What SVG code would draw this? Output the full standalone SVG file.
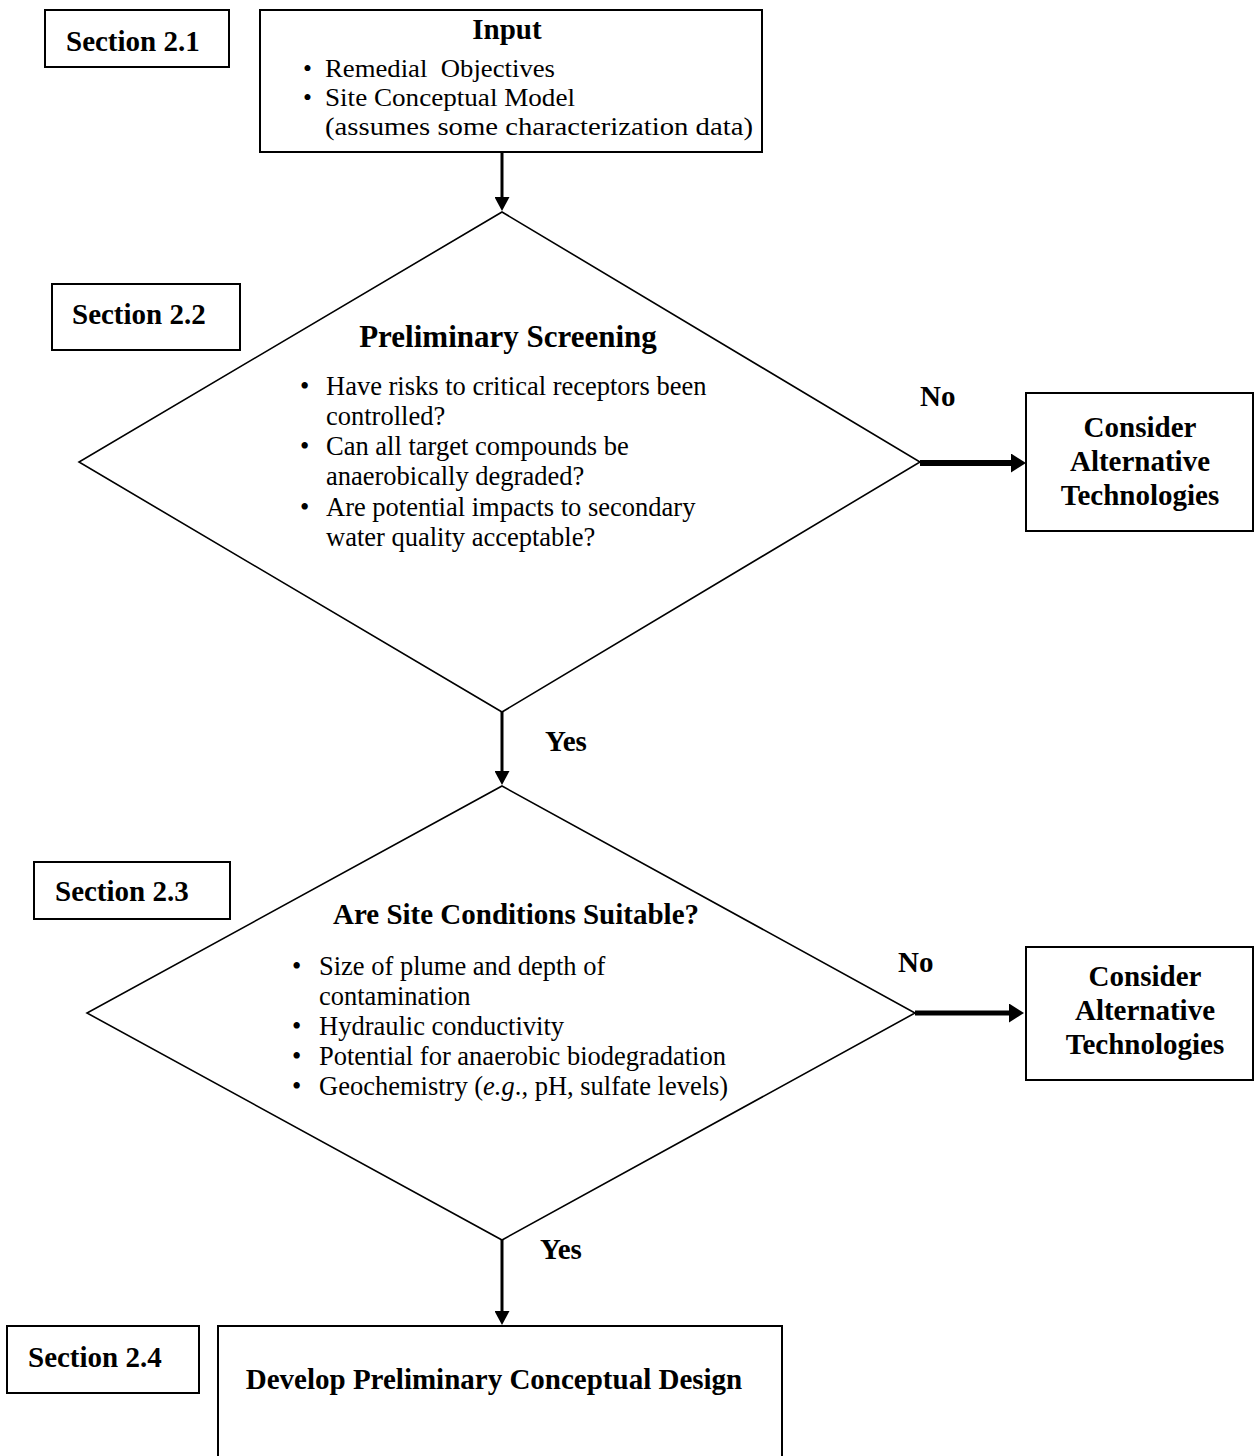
<svg xmlns="http://www.w3.org/2000/svg" width="1254" height="1456" viewBox="0 0 1254 1456">
<defs>
<style>
.box{fill:#fff;stroke:#000;stroke-width:2}
.dia{fill:#fff;stroke:#000;stroke-width:1.6}
.con{stroke:#000;fill:none}
.b{font-family:"Liberation Serif","Times New Roman",serif;font-weight:bold;fill:#000}
.r{font-family:"Liberation Serif","Times New Roman",serif;fill:#000;font-size:26.5px}
.in{font-size:25.5px}
.sec{font-size:29px}
.hd{font-size:29px;text-anchor:middle}
</style>
<marker id="av" markerUnits="userSpaceOnUse" markerWidth="14" markerHeight="15" refX="0" refY="7.5" orient="auto" viewBox="0 0 14 15">
<path d="M0,0 L14,7.5 L0,15 z" fill="#000"/>
</marker>
<marker id="ah" markerUnits="userSpaceOnUse" markerWidth="15" markerHeight="19" refX="0" refY="9.5" orient="auto" viewBox="0 0 15 19">
<path d="M0,0 L15,9.5 L0,19 z" fill="#000"/>
</marker>
</defs>
<rect width="1254" height="1456" fill="#fff"/>

<g id="connectors">
<line class="con" x1="502" y1="152" x2="502" y2="197" stroke-width="3" marker-end="url(#av)"/>
<line class="con" x1="502" y1="712" x2="502" y2="771" stroke-width="3" marker-end="url(#av)"/>
<line class="con" x1="502" y1="1240" x2="502" y2="1311" stroke-width="3" marker-end="url(#av)"/>
<line class="con" x1="920" y1="463" x2="1011" y2="463" stroke-width="6" marker-end="url(#ah)"/>
<line class="con" x1="915" y1="1013" x2="1009" y2="1013" stroke-width="5" marker-end="url(#ah)"/>
<text class="b" x="920" y="406" font-size="29">No</text>
<text class="b" x="898" y="972" font-size="29">No</text>
<text class="b" x="545" y="751" font-size="29">Yes</text>
<text class="b" x="540" y="1259" font-size="29">Yes</text>
</g>

<g id="sec21">
<rect class="box" x="45" y="10" width="184" height="57"/>
<text class="b sec" x="66" y="51">Section 2.1</text>
</g>

<g id="input">
<rect class="box" x="260" y="10" width="502" height="142" stroke-width="1.6"/>
<text class="b hd" x="507" y="39" font-size="31">Input</text>
<text class="r in" x="303" y="77">•</text>
<text class="r in" x="325" y="77" style="white-space:pre" textLength="230" lengthAdjust="spacingAndGlyphs">Remedial  Objectives</text>
<text class="r in" x="303" y="106">•</text>
<text class="r in" x="325" y="106" textLength="250" lengthAdjust="spacingAndGlyphs">Site Conceptual Model</text>
<text class="r in" x="325" y="135" textLength="428" lengthAdjust="spacingAndGlyphs">(assumes some characterization data)</text>
</g>

<g id="sec22">
<rect class="box" x="52" y="284" width="188" height="66"/>
<text class="b sec" x="72" y="324">Section 2.2</text>
</g>

<g id="screening">
<polygon class="dia" points="502,212 920,462 502,712 79,462"/>
<text class="b" x="508" y="347" font-size="31" text-anchor="middle">Preliminary Screening</text>
<text class="r" x="300" y="395">•</text>
<text class="r" x="326" y="395">Have risks to critical receptors been</text>
<text class="r" x="326" y="425">controlled?</text>
<text class="r" x="300" y="455">•</text>
<text class="r" x="326" y="455">Can all target compounds be</text>
<text class="r" x="326" y="485">anaerobically degraded?</text>
<text class="r" x="300" y="516">•</text>
<text class="r" x="326" y="516">Are potential impacts to secondary</text>
<text class="r" x="326" y="546">water quality acceptable?</text>
</g>

<g id="alt1">
<rect class="box" x="1026" y="393" width="227" height="138"/>
<text class="b hd" x="1140" y="437">Consider</text>
<text class="b hd" x="1140" y="471">Alternative</text>
<text class="b hd" x="1140" y="505">Technologies</text>
</g>

<g id="sec23">
<rect class="box" x="34" y="862" width="196" height="57"/>
<text class="b sec" x="55" y="901">Section 2.3</text>
</g>

<g id="suitable">
<polygon class="dia" points="502,786 915,1013 502,1240 87,1013"/>
<text class="b" x="516" y="924" font-size="29" text-anchor="middle">Are Site Conditions Suitable?</text>
<text class="r" x="292" y="975">•</text>
<text class="r" x="319" y="975">Size of plume and depth of</text>
<text class="r" x="319" y="1005">contamination</text>
<text class="r" x="292" y="1035">•</text>
<text class="r" x="319" y="1035">Hydraulic conductivity</text>
<text class="r" x="292" y="1065">•</text>
<text class="r" x="319" y="1065">Potential for anaerobic biodegradation</text>
<text class="r" x="292" y="1095">•</text>
<text class="r" x="319" y="1095">Geochemistry (<tspan font-style="italic">e.g</tspan>., pH, sulfate levels)</text>
</g>

<g id="alt2">
<rect class="box" x="1026" y="947" width="227" height="133"/>
<text class="b hd" x="1145" y="986">Consider</text>
<text class="b hd" x="1145" y="1020">Alternative</text>
<text class="b hd" x="1145" y="1054">Technologies</text>
</g>

<g id="sec24">
<rect class="box" x="7" y="1326" width="192" height="67"/>
<text class="b sec" x="28" y="1367">Section 2.4</text>
</g>

<g id="design">
<rect class="box" x="218" y="1326" width="564" height="140"/>
<text class="b hd" x="494" y="1389">Develop Preliminary Conceptual Design</text>
</g>
</svg>
